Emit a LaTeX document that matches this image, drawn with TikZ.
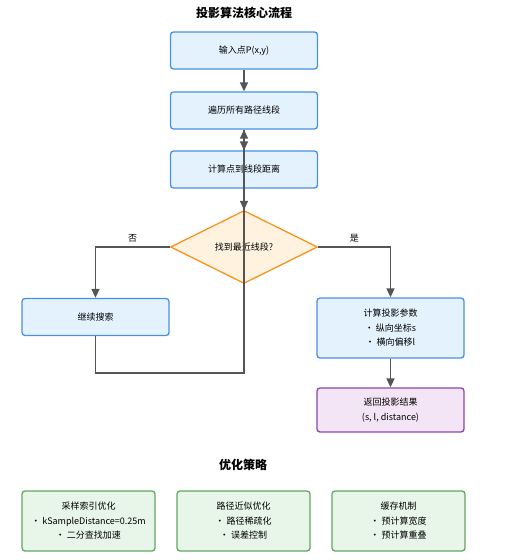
\documentclass[tikz,border=0pt]{standalone}
\usepackage{fontspec}
\setmainfont{Noto Sans CJK SC}
\usetikzlibrary{shapes.geometric,arrows.meta}

\definecolor{boxblue}{HTML}{E3F2FD}
\definecolor{edgeblue}{HTML}{4A90E2}
\definecolor{boxorange}{HTML}{FFF3E0}
\definecolor{edgeorange}{HTML}{F7931E}
\definecolor{boxpurple}{HTML}{F3E5F5}
\definecolor{edgepurple}{HTML}{8E44AD}
\definecolor{boxgreen}{HTML}{E8F5E9}
\definecolor{edgegreen}{HTML}{62A862}
\definecolor{linegray}{HTML}{555555}

\tikzset{
	stepbox/.style={draw=edgeblue,fill=boxblue,line width=1.3pt,rounded corners=3pt,
		minimum width=147pt,minimum height=37pt,align=center,inner sep=2pt},
	decision/.style={diamond,draw=edgeorange,fill=boxorange,line width=1.3pt,aspect=2,
		minimum width=147pt,minimum height=73pt,inner sep=0pt},
	resultbox/.style={stepbox,draw=edgepurple,fill=boxpurple},
	optbox/.style={stepbox,draw=edgegreen,fill=boxgreen,minimum width=133pt,minimum height=60pt},
	flow/.style={draw=linegray,line width=1.6pt,-{Triangle[length=9pt,width=8pt]}},
	heading/.style={font=\fontsize{12}{14}\selectfont\bfseries}
}

\begin{document}
\begin{tikzpicture}[x=1pt,y=-1pt,font=\fontsize{9}{14.5}\selectfont]
			\useasboundingbox (0,0) rectangle (524,560);
			
			\node[heading] (title) at (244,13) {投影算法核心流程};
			
			\node[stepbox] (input) at (244,50.5) {输入点P(x,y)};
			\node[stepbox] (traverse) at (244,110.5) {遍历所有路径线段};
			\node[stepbox] (dist) at (244,169.5) {计算点到线段距离};
			\node[decision] (found) at (244,247) {找到最近线段?};
			\node[stepbox] (search) at (95.5,317) {继续搜索};
			\node[stepbox,minimum height=60pt] (param) at (390.5,328) {计算投影参数\\• 纵向坐标s\\• 横向偏移l};
			\node[resultbox,minimum height=44pt] (result) at (390.5,410) {返回投影结果\\(s, l, distance)};
			
			\draw[flow] (input) -- (traverse);
			\draw[flow] (traverse) -- (dist);
			\draw[flow] (dist) -- (found);
			\draw[flow] (found.west) -| node[pos=0.25,above=1pt]{否} (search.north);
			\draw[flow] (found.east) -| node[pos=0.25,above=1pt]{是} (param.north);
			\draw[flow] (param) -- (result);
			
			% loop back
			\coordinate (back) at (244,373);
			\draw[flow] (search.south) |- (back) -- (traverse.south);
			
			\node[heading] (opttitle) at (243,465) {优化策略};
			
			\foreach \x/\name/\head/\a/\b in {88.5/sample/采样索引优化/kSampleDistance=0.25m/二分查找加速,
				243.5/approx/路径近似优化/路径稀疏化/误差控制,
				398.5/cache/缓存机制/预计算宽度/预计算重叠} {
				\node[optbox] (\name) at (\x,521) {\head\\• \a\\• \b};
			}
\end{tikzpicture}
\end{document}
